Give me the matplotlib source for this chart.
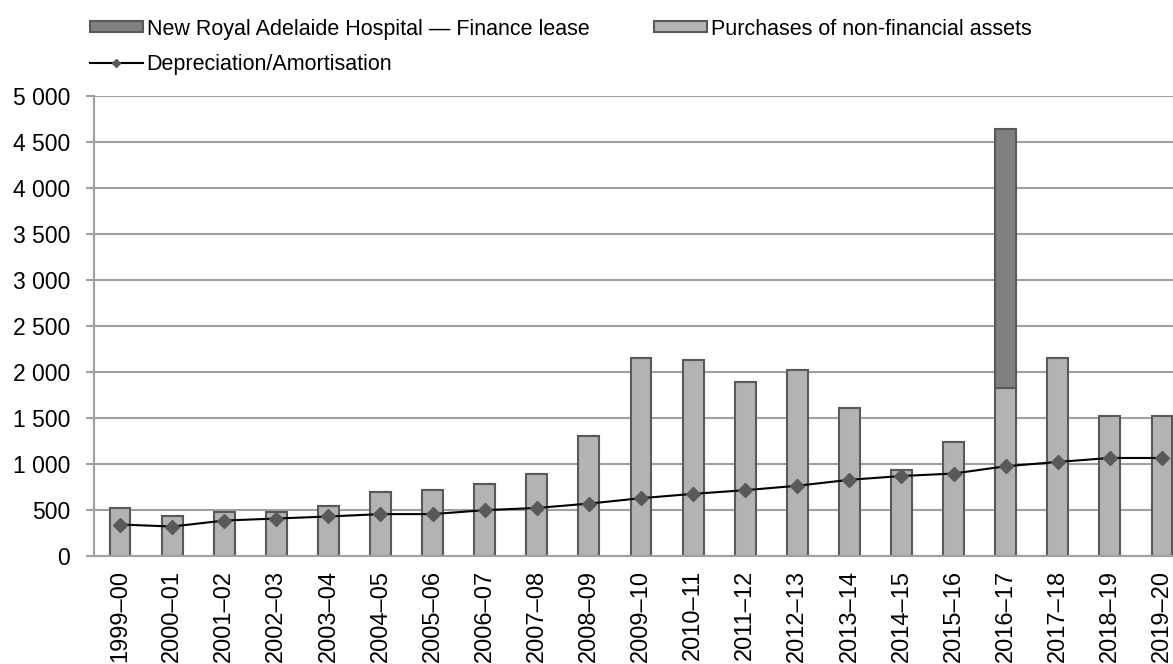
import matplotlib
matplotlib.use("Agg")
import matplotlib.pyplot as plt
import numpy as np

plt.rcParams['font.family'] = ['Liberation Sans', 'DejaVu Sans']

# Financial years shown along the x axis
years = ['1999–00', '2000–01', '2001–02', '2002–03', '2003–04', '2004–05',
         '2005–06', '2006–07', '2007–08', '2008–09', '2009–10', '2010–11',
         '2011–12', '2012–13', '2013–14', '2014–15', '2015–16', '2016–17',
         '2017–18', '2018–19', '2019–20']

# Purchases of non-financial assets ($m)
purchases = [520, 435, 476, 476, 545, 698, 716, 778, 890, 1305, 2150, 2128,
             1893, 2022, 1605, 935, 1238, 1828, 2154, 1517, 1517]

# New Royal Adelaide Hospital finance lease ($m)
nrah_lease = [0, 0, 0, 0, 0, 0, 0, 0, 0, 0, 0, 0,
              0, 0, 0, 0, 0, 2818, 0, 0, 0]

# Depreciation/Amortisation ($m)
depreciation = [342, 320, 385, 407, 429, 455, 455, 498, 522, 569, 628, 675,
                715, 763, 828, 869, 896, 975, 1022, 1065, 1065]

y_ticks = [0, 500, 1000, 1500, 2000, 2500, 3000, 3500, 4000, 4500, 5000]

fig = plt.figure(figsize=(11.73, 6.64), dpi=100)
ax = fig.add_axes([0.0801, 0.1627, 0.9327, 0.6928])

x = np.arange(len(years))
edge = '#595959'
ax.bar(x, purchases, width=0.4, color='#b3b3b3', edgecolor=edge, linewidth=1.5,
       zorder=2, label='Purchases of non-financial assets')
ax.bar(x, nrah_lease, width=0.4, bottom=purchases, color='#808080',
       edgecolor=edge, linewidth=1.5, zorder=2,
       label='New Royal Adelaide Hospital — Finance lease')
ax.plot(x, depreciation, color='black', linewidth=1.5, marker='D',
        markersize=7, markerfacecolor='#595959', markeredgecolor='#595959',
        zorder=3, label='Depreciation/Amortisation')

ax.set_xlim(-0.5, len(years) - 0.5)
ax.set_ylim(0, 5000)
ax.set_yticks(y_ticks)
ax.set_yticklabels([f'{v:,}'.replace(',', ' ') for v in y_ticks], fontsize=16.5)
ax.set_xticks(x)
ax.set_xticklabels(years, rotation=90, fontsize=17)

ax.grid(axis='y', color='#a0a0a0', linewidth=1.5, zorder=0)
ax.tick_params(axis='y', length=6, width=1.5, color='#a0a0a0', pad=11)
ax.tick_params(axis='x', length=0, pad=10)
for side in ['top', 'right']:
    ax.spines[side].set_visible(False)
ax.spines['left'].set_color('#a0a0a0')
ax.spines['left'].set_linewidth(1.5)
ax.spines['bottom'].set_color('#a0a0a0')
ax.spines['bottom'].set_linewidth(1.5)

handles, labels = ax.get_legend_handles_labels()
# first column: NRAH lease, depreciation; second column: purchases
order = [2, 0, 1]
fig.legend([handles[i] for i in order], [labels[i] for i in order],
           loc='upper left', bbox_to_anchor=(0.0767, 0.972), ncol=2, frameon=False,
           fontsize=15.5, handlelength=2.45, handleheight=0.4, handletextpad=0.18,
           columnspacing=3.0, labelspacing=0.67, borderpad=0, borderaxespad=0,
           markerscale=0.6)

fig.savefig('out.png', dpi=100)
